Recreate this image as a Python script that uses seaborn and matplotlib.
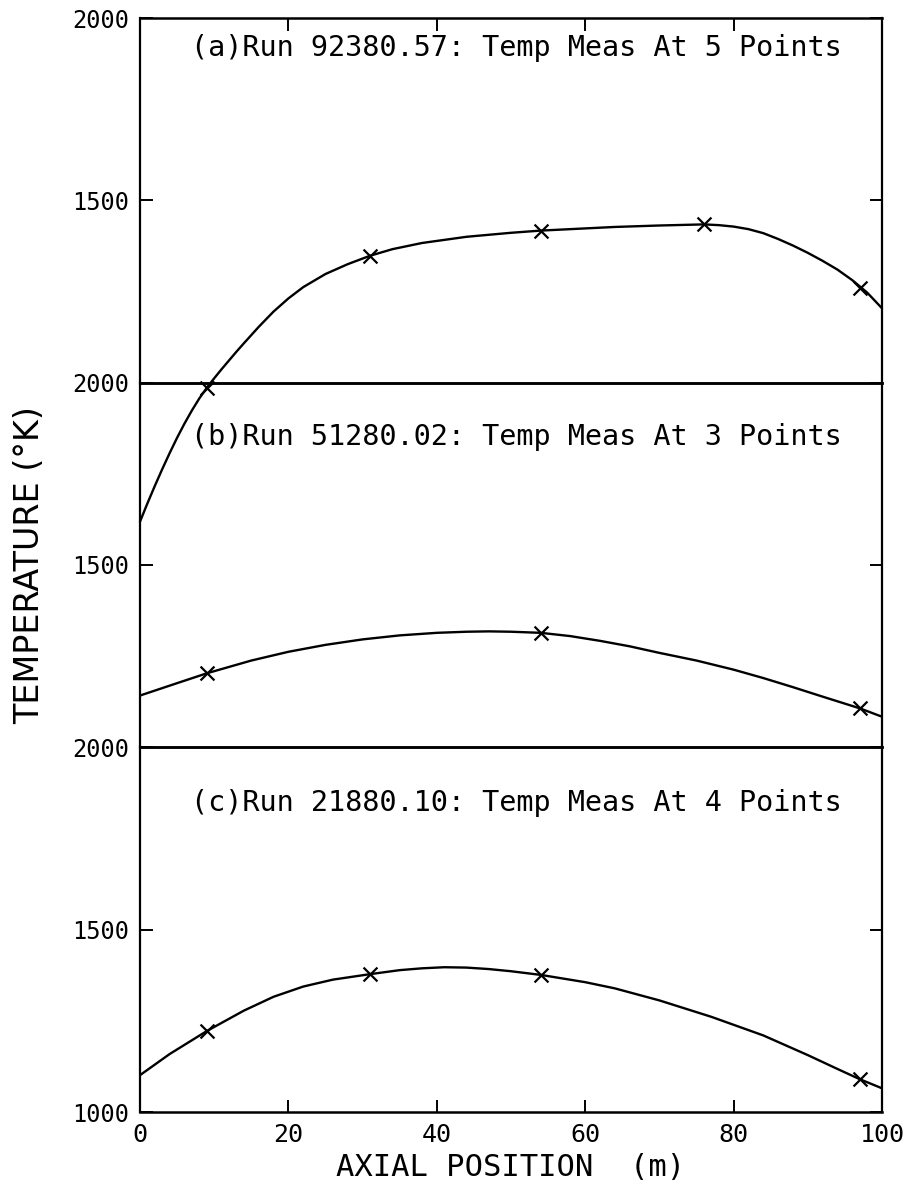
import matplotlib
matplotlib.use("Agg")
import matplotlib.pyplot as plt
import seaborn as sns
import pandas as pd

# ---------------- data ----------------
# measured points (x = axial position in m, T in K)
meas_x_a = [9, 31, 54, 76, 97]
meas_t_a = [985, 1348, 1417, 1434, 1260]
meas_x_b = [9, 54, 97]
meas_t_b = [1203, 1314, 1107]
meas_x_c = [9, 31, 54, 97]
meas_t_c = [1222, 1378, 1376, 1090]

# fitted profile curves, sampled along the axis
curve_x_a = [0, 1, 2, 3, 4, 5, 6, 7, 8, 9, 10, 11, 12, 13, 14, 16, 18, 20, 22, 25, 28, 31,
             34, 38, 44, 50, 54, 60, 64, 70, 74, 76, 78, 80, 82, 84, 86, 88, 90, 92, 94,
             96, 97, 98, 100]
curve_t_a = [619, 669, 717, 763, 807, 849, 888, 924, 957, 986, 1012, 1037, 1061, 1085,
             1108, 1153, 1195, 1231, 1262, 1298, 1325, 1348, 1366, 1383, 1400, 1411, 1417,
             1423, 1427, 1431, 1433, 1434, 1432, 1428, 1421, 1410, 1394, 1376, 1356, 1334,
             1310, 1281, 1264, 1247, 1204]
curve_x_b = [0, 5, 9, 15, 20, 25, 30, 35, 40, 44, 47, 50, 54, 58, 62, 66, 70, 75, 80, 84,
             88, 92, 97, 100]
curve_t_b = [1142, 1176, 1203, 1238, 1262, 1281, 1296, 1307, 1314, 1317, 1318, 1317, 1314,
             1305, 1292, 1277, 1259, 1238, 1213, 1190, 1165, 1139, 1107, 1084]
curve_x_c = [0, 4, 9, 14, 18, 22, 26, 31, 35, 38, 41, 44, 47, 50, 54, 60, 64, 70, 77, 84,
             90, 94, 97, 100]
curve_t_c = [1101, 1159, 1222, 1278, 1316, 1344, 1363, 1378, 1389, 1394, 1397, 1396, 1392,
             1386, 1376, 1356, 1339, 1306, 1261, 1210, 1156, 1118, 1090, 1065]

titles = ["(a)Run 92380.57: Temp Meas At 5 Points",
          "(b)Run 51280.02: Temp Meas At 3 Points",
          "(c)Run 21880.10: Temp Meas At 4 Points"]
x_ticks = [0, 20, 40, 60, 80, 100]
y_ticks_upper = [1500, 2000]
y_ticks_lower = [1000, 1500, 2000]
x_label = "AXIAL POSITION  (m)"
y_label = "TEMPERATURE (°K)"

# ---------------- style ----------------
sns.set_style("ticks")
plt.rcParams["font.family"] = ["DejaVu Sans Mono", "DejaVu Sans"]
plt.rcParams["axes.linewidth"] = 1.6
plt.rcParams["xtick.major.width"] = 1.4
plt.rcParams["ytick.major.width"] = 1.4
plt.rcParams["text.color"] = "black"
plt.rcParams["axes.labelcolor"] = "black"

W, H = 911, 1184
fig = plt.figure(figsize=(W / 100, H / 100), dpi=100)
left, right, top, bottom = 140 / W, 882 / W, 1 - 18 / H, 1 - 1112 / H
ph = (top - bottom) / 3
axes = [fig.add_axes([left, top - (i + 1) * ph, right - left, ph]) for i in range(3)]
ax_a, ax_b, ax_c = axes

panels = [
    (ax_a, curve_x_a, curve_t_a, meas_x_a, meas_t_a, titles[0], 0.918, False),
    (ax_b, curve_x_b, curve_t_b, meas_x_b, meas_t_b, titles[1], 0.850, True),
    (ax_c, curve_x_c, curve_t_c, meas_x_c, meas_t_c, titles[2], 0.846, True),
]

for ax, cx, ct, mx, mt, title, ty, clip in panels:
    ax.set_facecolor("none")
    curve_df = pd.DataFrame({"x": cx, "T": ct})
    meas_df = pd.DataFrame({"x": mx, "T": mt})
    sns.lineplot(data=curve_df, x="x", y="T", ax=ax, color="black", linewidth=1.7,
                 estimator=None, sort=True, clip_on=clip)
    sns.scatterplot(data=meas_df, x="x", y="T", ax=ax, marker="x", color="black",
                    s=100, linewidth=1.6, clip_on=clip, zorder=5)
    ax.set_xlim(0, 100)
    ax.set_ylim(1000, 2000)
    ax.set_xlabel("")
    ax.set_ylabel("")
    ax.text(50.7, ty, title, transform=ax.get_xaxis_transform(), ha="center",
            va="center", fontsize=20.5, family="DejaVu Sans Mono", color="black")
    ax.set_xticks(x_ticks)
    ax.tick_params(axis="both", direction="in", length=9, labelsize=17, pad=8,
                   colors="black")
    ax.tick_params(axis="y", right=True, labelright=False)
    for sp in ax.spines.values():
        sp.set_color("black")

ax_a.set_zorder(3)
ax_b.set_zorder(2)
ax_c.set_zorder(1)

for ax in (ax_a, ax_b):
    ax.set_yticks(y_ticks_upper)
    ax.set_yticklabels([str(v) for v in y_ticks_upper])
ax_c.set_yticks(y_ticks_lower)
ax_c.set_yticklabels([str(v) for v in y_ticks_lower])

ax_a.tick_params(axis="x", bottom=False, labelbottom=False, top=True, labeltop=False)
ax_b.tick_params(axis="x", bottom=False, labelbottom=False, top=False, labeltop=False)
ax_c.tick_params(axis="x", bottom=True, labelbottom=True, top=False, labeltop=False,
                 labelsize=18)
ax_c.set_xticklabels([str(v) for v in x_ticks])
for sp in ("top", "bottom"):
    ax_a.spines[sp].set_linewidth(1.8)
    ax_b.spines[sp].set_linewidth(1.8)
    ax_c.spines[sp].set_linewidth(1.8)

ax_c.set_xlabel(x_label, fontsize=22, family="DejaVu Sans Mono", labelpad=4,
                color="black")
fig.text(30 / W, 1 - 565 / H, y_label, rotation=90, ha="center", va="center",
         fontsize=24, family="DejaVu Sans", color="black")

fig.savefig("out.png", dpi=100, facecolor="white")
